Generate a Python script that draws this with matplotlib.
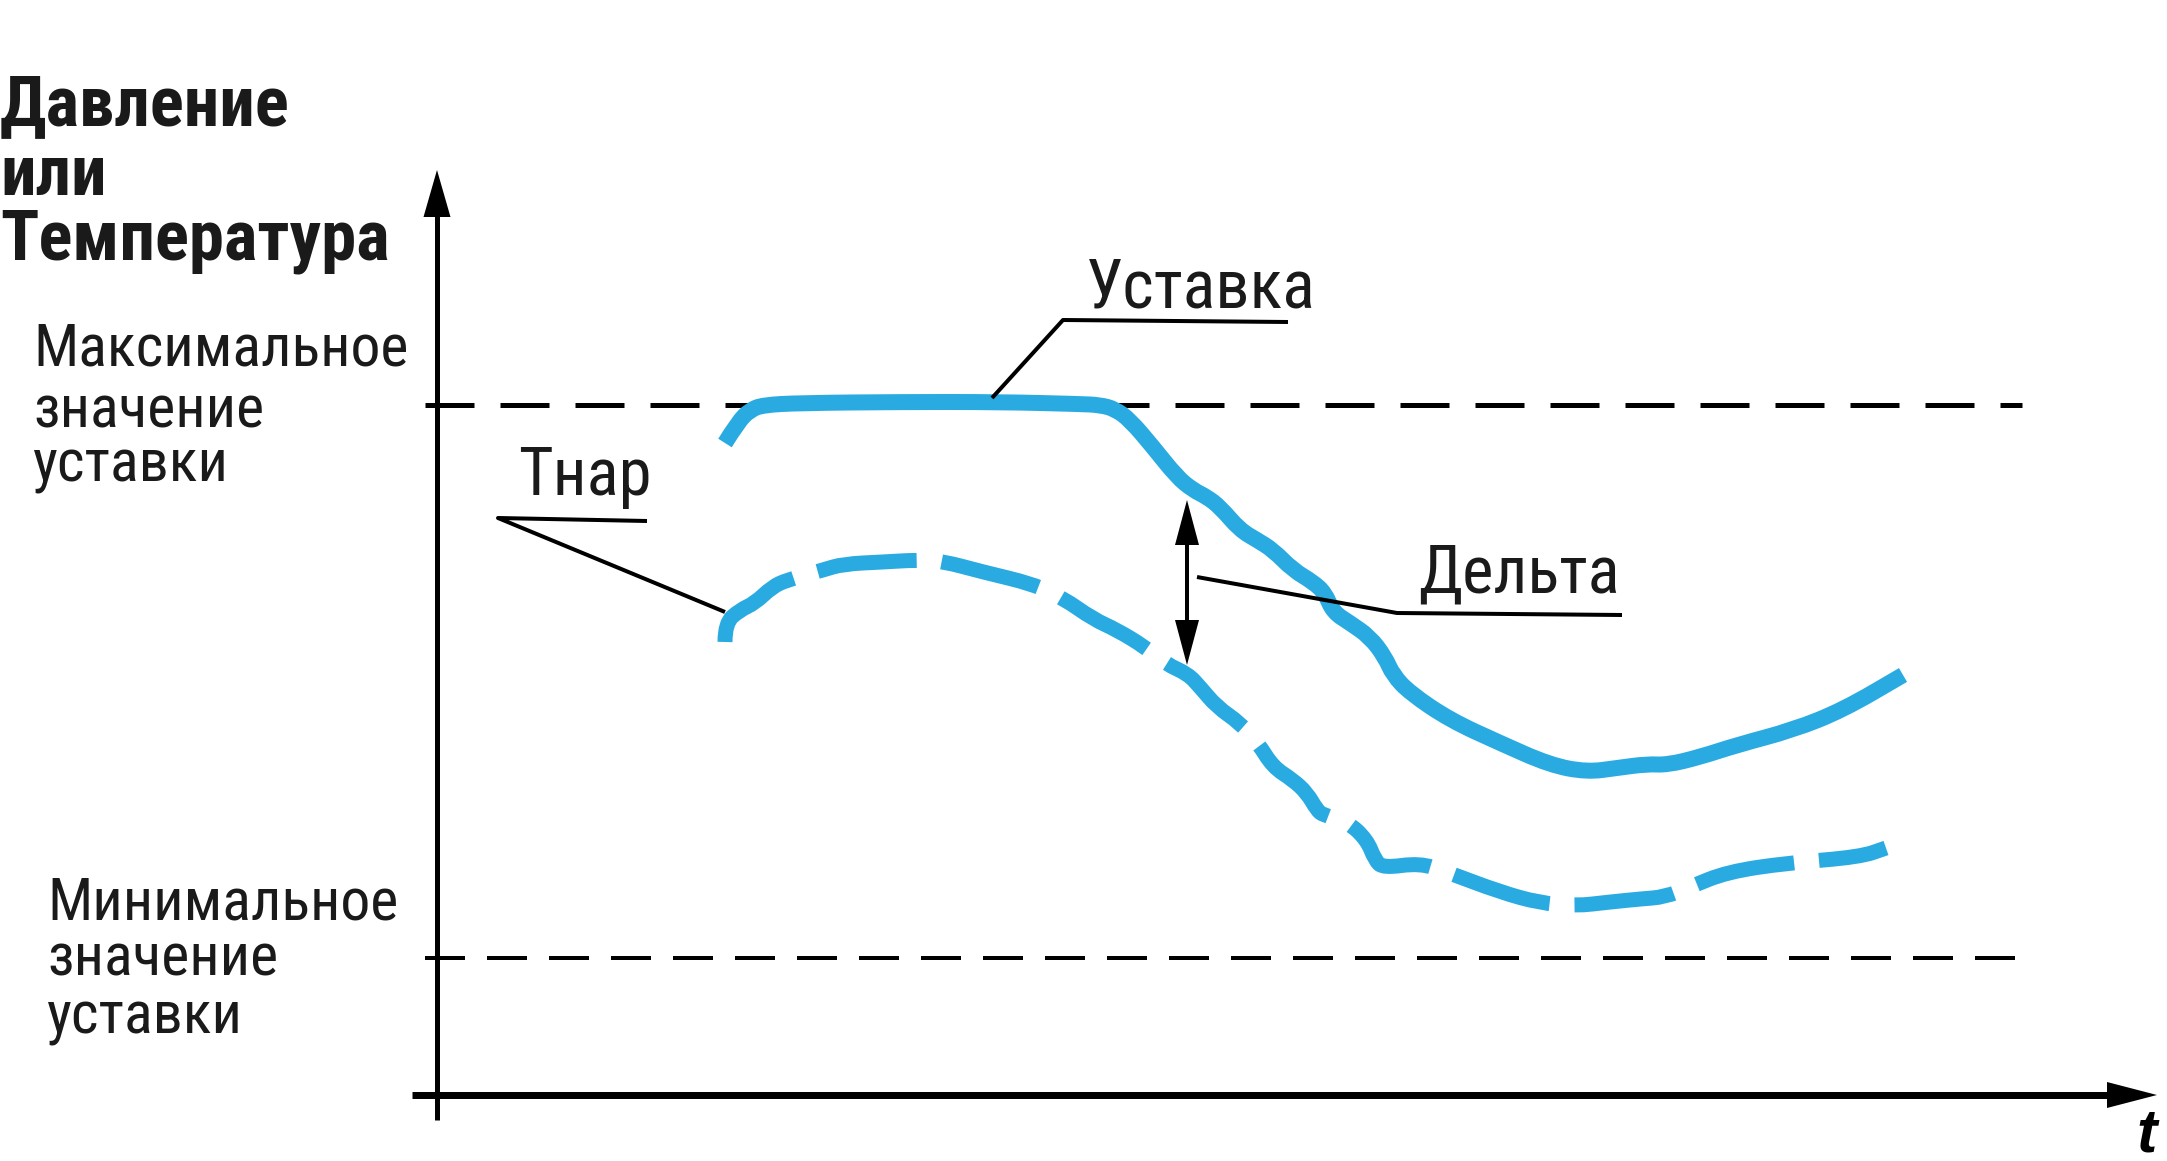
import matplotlib.pyplot as plt
from matplotlib.path import Path
from matplotlib.patches import PathPatch

W, H = 2167, 1161
blue = '#29abe2'
narrow = ['Roboto Condensed', 'Liberation Sans', 'DejaVu Sans']

# curves in its own pixel units (y grows downward)
setpoint_x = [725, 738, 750, 763, 800, 900, 1000, 1080, 1100, 1115, 1130, 1153, 1177,
              1193, 1207, 1220, 1240, 1257, 1273, 1293, 1313, 1325, 1333, 1350, 1370,
              1385, 1393, 1410, 1450, 1500, 1550, 1587, 1617, 1647, 1667, 1700, 1737,
              1793, 1843, 1903]
setpoint_y = [443, 422, 410, 405, 403, 402, 402, 404, 405, 409, 420, 447, 477,
              490, 497, 507, 530, 540, 550, 570, 582, 593, 612, 623, 637,
              657, 675, 693, 720, 743, 765, 772, 768, 764, 765, 757, 745,
              730, 710, 675]

tnar_x = [725, 725, 740, 755, 772, 787, 823, 843, 883, 917, 942, 983, 1033, 1063,
          1093, 1117, 1145, 1166, 1188, 1200, 1217, 1240, 1258, 1273, 1293, 1307,
          1317, 1323, 1348, 1367, 1375, 1383, 1420, 1447, 1500, 1540, 1575, 1610,
          1640, 1665, 1690, 1727, 1787, 1860, 1886]
tnar_y = [642, 623, 610, 603, 587, 580, 570, 564, 562, 560, 561, 572, 584, 598,
          619, 630, 647, 664, 674, 687, 707, 723, 743, 767, 780, 793,
          810, 815, 822, 840, 860, 868, 863, 872, 892, 903, 906, 902,
          899, 897, 887, 872, 863, 857, 848]

max_level = 405
min_level = 958
delta_x = 1187
delta_top, delta_bottom = 500, 665


def smooth(xs, ys):
    # quadratic pieces through midpoints, so the thick line has no corners
    verts = [(xs[0], ys[0])]
    codes = [Path.MOVETO]
    for i in range(1, len(xs) - 1):
        verts += [(xs[i], ys[i]), ((xs[i] + xs[i + 1]) / 2, (ys[i] + ys[i + 1]) / 2)]
        codes += [Path.CURVE3, Path.CURVE3]
    verts.append((xs[-1], ys[-1]))
    codes.append(Path.LINETO)
    return Path(verts, codes)


fig = plt.figure(figsize=(W / 100, H / 100), dpi=100)
ax = fig.add_axes([0, 0, 1, 1])
ax.set_xlim(0, W)
ax.set_ylim(H, 0)
ax.axis('off')
pt = 0.72  # points per pixel

# axes with arrows
ax.plot([437, 437], [1120, 210], color='black', lw=5 * pt, solid_capstyle='butt')
ax.arrow(437, 220, 0, -50, width=0, head_width=27, head_length=47,
         length_includes_head=True, fc='black', ec='none')
ax.plot([412, 2110], [1095, 1095], color='black', lw=7 * pt, solid_capstyle='butt')
ax.arrow(2100, 1095, 57, 0, width=0, head_width=26, head_length=50,
         length_includes_head=True, fc='black', ec='none')

# set point limits
ax.plot([425, 2022], [max_level, max_level], color='black', lw=5 * pt,
        dashes=(49 / 5, 26 / 5), dash_capstyle='butt', zorder=2)
ax.plot([425, 2022], [min_level, min_level], color='black', lw=4 * pt,
        dashes=(40 / 4, 22 / 4), dash_capstyle='butt', zorder=2)

# curves
p1 = PathPatch(smooth(setpoint_x, setpoint_y), fill=False, ec=blue, lw=16 * pt,
               capstyle='butt', joinstyle='round', zorder=3)
ax.add_patch(p1)
p2 = PathPatch(smooth(tnar_x, tnar_y), fill=False, ec=blue, lw=15 * pt,
               linestyle=(0, (100 / 15, 25 / 15)), capstyle='butt', joinstyle='round',
               zorder=3)
ax.add_patch(p2)

# delta arrow
ax.plot([delta_x, delta_x], [delta_top + 40, delta_bottom - 40], color='black',
        lw=4 * pt, zorder=4)
ax.arrow(delta_x, delta_top + 45, 0, -45, width=0, head_width=24, head_length=45,
         length_includes_head=True, fc='black', ec='none', zorder=4)
ax.arrow(delta_x, delta_bottom - 45, 0, 45, width=0, head_width=24, head_length=45,
         length_includes_head=True, fc='black', ec='none', zorder=4)

# leaders
lead = dict(color='black', lw=4 * pt, solid_capstyle='butt', zorder=4)
ax.plot([992, 1063, 1288], [398, 320, 322], **lead)
ax.plot([725, 498, 647], [612, 518, 521], **dict(lead, zorder=2))
ax.plot([1197, 1397, 1622], [577, 613, 615], **lead)

# texts
ink = '#1a1a1a'
ax.text(1086, 307, 'Уставка', fontsize=49, family=narrow, color=ink, va='baseline')
ax.text(518, 495, 'Тнар', fontsize=48, family=narrow, color=ink, va='baseline')
ax.text(1418, 593, 'Дельта', fontsize=48, family=narrow, color=ink, va='baseline')

for txt, y in zip(['Максимальное', 'значение', 'уставки'], [365, 427, 482]):
    ax.text(33, y, txt, fontsize=43, family=narrow, color=ink, va='baseline')
for txt, y in zip(['Минимальное', 'значение', 'уставки'], [920, 976, 1034]):
    ax.text(47, y, txt, fontsize=43, family=narrow, color=ink, va='baseline')
for txt, y in zip(['Давление', 'или', 'Температура'], [125, 195, 260]):
    ax.text(0, y, txt, fontsize=51, family=narrow, weight='bold', color=ink,
            va='baseline')

ax.text(2136, 1152, 't', fontsize=44, family=['Liberation Sans', 'DejaVu Sans'],
        weight='bold', style='italic', va='baseline')

fig.savefig('out.png', dpi=100)
